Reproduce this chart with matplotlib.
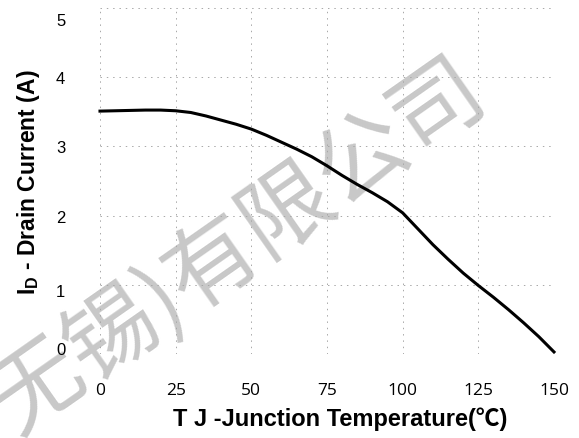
import matplotlib
matplotlib.use("Agg")
import matplotlib.pyplot as plt
import matplotlib.transforms as mtransforms

# junction temperature (C) vs drain current (A)
tempC = [0, 5, 10, 15, 20, 25, 30, 35, 40, 45, 50, 55, 60, 65, 70, 75,
         80, 85, 90, 95, 100, 105, 110, 115, 120, 125, 130, 135, 140, 145, 150]
drainA = [3.51, 3.515, 3.52, 3.525, 3.525, 3.515, 3.49, 3.44, 3.38, 3.32, 3.25, 3.16, 3.06, 2.96, 2.85, 2.72,
          2.58, 2.45, 2.33, 2.20, 2.04, 1.81, 1.58, 1.37, 1.17, 0.99, 0.82, 0.64, 0.45, 0.25, 0.03]

xTicks = [0, 25, 50, 75, 100, 125, 150]
yTicks = [0, 1, 2, 3, 4, 5]

watermark = "无锡)有限公司"

plt.rcParams['mathtext.fontset'] = 'custom'
plt.rcParams['mathtext.rm'] = 'Liberation Sans'
plt.rcParams['mathtext.bf'] = 'Liberation Sans:bold'

fig = plt.figure(figsize=(5.79, 4.39), dpi=100)
ax = fig.add_axes([0.1727, 0.1913, 0.9568 - 0.1727, 0.9795 - 0.1913])
ax.patch.set_facecolor('none')

# watermark sits behind the axes
fig.text(0.41, 0.44, watermark, family=['Noto Sans CJK SC', 'DejaVu Sans'],
         fontsize=66, color='#c8c8c8', rotation=35, rotation_mode='anchor',
         ha='center', va='center', zorder=-1)

ax.plot(tempC, drainA, color='black', lw=2.2, clip_on=False, zorder=3)

ax.set_xlim(0, 150)
ax.set_ylim(0, 5)
ax.set_xticks(xTicks)
ax.set_yticks(yTicks)
for s in ax.spines.values():
    s.set_visible(False)
ax.grid(True, color='#a8a8a8', lw=0.7, linestyle=(0, (1.5, 5)))
ax.tick_params(length=0)
ax.tick_params(axis='x', pad=20, labelsize=12.5)
ax.tick_params(axis='y', pad=25, labelsize=12)
for lb in ax.get_xticklabels():
    lb.set_family('Open Sans')

# the y labels in the original sit a little off their grid lines (points, + is up)
yShift = [4.3, -3.6, 0, 0, 0, -8]
for tick, dy in zip(ax.yaxis.get_major_ticks(), yShift):
    lb = tick.label1
    lb.set_family('Liberation Sans')
    if dy:
        lb.set_transform(lb.get_transform() + mtransforms.ScaledTranslation(0, dy / 72, fig.dpi_scale_trans))

ax.set_xlabel('T J -Junction Temperature(℃)', family=['Liberation Sans', 'Noto Sans CJK SC'],
              fontsize=17, fontweight='bold', labelpad=6)
ax.xaxis.label.set_x(0.53)
ax.set_ylabel(r'$\mathbf{I_D}$ - Drain Current (A)', family='Liberation Sans',
              fontsize=16.5, fontweight='bold', labelpad=10)

fig.savefig('out.png', dpi=100)
